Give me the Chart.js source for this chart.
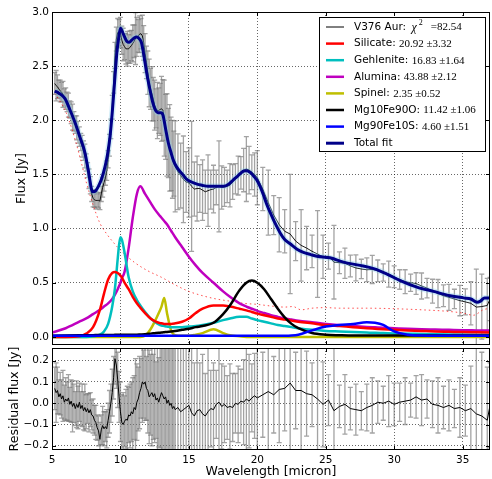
<!DOCTYPE html>
<html>
<head>
<meta charset="utf-8">
<script src="https://cdn.jsdelivr.net/npm/chart.js@4/dist/chart.umd.min.js"></script>
<style>
  html, body { margin: 0; padding: 0; background: #fff; }
  #wrap { position: relative; width: 492px; height: 479px; }
  #topChart { position: absolute; left: 0; top: 0; }
  #resChart { position: absolute; left: 0; top: 346px; }
</style>
</head>
<body>
<div id="wrap">
  <canvas id="topChart" width="492" height="346" style="width:492px;height:346px"></canvas>
  <canvas id="resChart" width="492" height="133" style="width:492px;height:133px"></canvas>
</div>
<script>
// ---- ticks
const xTicks = [5, 10, 15, 20, 25, 30, 35];
const fluxTicks = [0, 0.5, 1, 1.5, 2, 2.5, 3];
const residTicks = [-0.2, -0.1, 0, 0.1, 0.2];

// ---- observed spectrum (micron, Jy)
const wave = [
  5.2,5.3,5.4,5.5,5.6,5.7,5.8,5.9,6.0,
  6.1,6.2,6.3,6.4,6.5,6.6,6.7,6.8,6.9,7.0,
  7.1,7.2,7.3,7.4,7.5,7.6,7.7,7.8,7.9,8.0,
  8.1,8.2,8.3,8.4,8.5,8.6,8.7,8.8,8.9,9.0,
  9.1,9.2,9.3,9.4,9.5,9.6,9.7,9.8,9.9,10.0,
  10.1,10.2,10.3,10.4,10.5,10.6,10.7,10.8,10.9,11.0,
  11.1,11.2,11.3,11.4,11.5,11.6,11.7,11.8,11.9,12.0,
  12.1,12.2,12.3,12.4,12.5,12.6,12.7,12.8,12.9,13.0,
  13.1,13.2,13.3,13.4,13.5,13.6,13.7,13.8,13.9,14.0,
  14.2,14.4,14.6,14.8,15.0,15.2,15.4,15.6,15.8,16.0,
  16.2,16.4,16.6,16.8,17.0,17.2,17.4,17.6,17.8,18.0,
  18.2,18.4,18.6,18.8,19.0,19.2,19.4,19.6,19.8,20.0,
  20.4,20.8,21.2,21.6,22.0,22.4,22.8,23.2,23.6,24.0,
  24.4,24.8,25.2,25.6,26.0,26.4,26.8,27.2,27.6,28.0,
  28.4,28.8,29.2,29.6,30.0,30.4,30.8,31.2,31.6,32.0,
  32.4,32.8,33.2,33.6,34.0,34.4,34.8,35.2,35.6,36.0,
  36.4,36.8,37.0
];
const flux = [
  2.34,2.32,2.31,2.29,2.27,2.26,2.24,2.21,2.20,
  2.17,2.14,2.10,2.07,2.03,1.99,1.96,1.93,1.89,1.85,
  1.80,1.76,1.72,1.67,1.61,1.54,1.46,1.40,1.32,1.28,
  1.265,1.26,1.26,1.26,1.255,1.32,1.38,1.425,1.47,1.535,
  1.64,1.77,1.92,2.12,2.35,2.60,2.75,2.81,2.81,2.81,
  2.74,2.70,2.68,2.66,2.66,2.66,2.675,2.69,2.71,2.73,
  2.755,2.77,2.78,2.795,2.80,2.78,2.715,2.62,2.535,2.44,
  2.345,2.29,2.245,2.195,2.14,2.11,2.09,2.09,2.10,2.105,
  2.095,2.02,1.94,1.865,1.79,1.745,1.69,1.64,1.60,1.575,
  1.525,1.49,1.455,1.43,1.425,1.39,1.365,1.37,1.37,1.355,
  1.34,1.35,1.36,1.365,1.38,1.39,1.38,1.385,1.39,1.40,
  1.43,1.46,1.49,1.515,1.54,1.55,1.54,1.52,1.50,1.47,
  1.365,1.24,1.125,1.035,0.975,0.95,0.885,0.845,0.82,0.79,
  0.765,0.74,0.745,0.69,0.685,0.68,0.655,0.637,0.627,0.62,
  0.623,0.61,0.595,0.58,0.555,0.53,0.51,0.50,0.492,0.47,
  0.45,0.422,0.40,0.38,0.365,0.35,0.335,0.323,0.31,0.275,
  0.28,0.29,0.35
];
const fluxErr = [
  0.10,0.14,0.11,0.08,0.10,0.09,0.12,0.08,0.10,
  0.09,0.11,0.08,0.10,0.12,0.09,0.08,0.11,0.10,0.09,
  0.08,0.10,0.09,0.11,0.08,0.07,0.09,0.08,0.07,0.08,
  0.07,0.08,0.06,0.07,0.08,0.07,0.09,0.08,0.07,0.09,
  0.08,0.10,0.09,0.11,0.10,0.12,0.11,0.13,0.12,0.14,
  0.13,0.15,0.12,0.14,0.16,0.13,0.15,0.14,0.17,0.15,
  0.24,0.18,0.15,0.17,0.14,0.19,0.16,0.18,0.15,0.20,
  0.22,0.19,0.25,0.20,0.23,0.18,0.26,0.21,0.24,0.30,
  0.28,0.35,0.30,0.38,0.32,0.40,0.34,0.36,0.30,0.42,
  0.35,0.30,0.40,0.28,0.32,0.60,0.25,0.30,0.22,0.28,
  0.20,0.33,0.18,0.22,0.16,0.42,0.20,0.18,0.15,0.20,
  0.16,0.14,0.18,0.15,0.20,0.30,0.22,0.16,0.20,0.25,
  0.20,0.30,0.18,0.25,0.20,0.55,0.18,0.33,0.20,0.15,
  0.40,0.20,0.12,0.34,0.10,0.14,0.10,0.12,0.09,0.11,
  0.13,0.10,0.08,0.12,0.10,0.09,0.11,0.08,0.10,0.12,
  0.09,0.11,0.13,0.10,0.12,0.09,0.14,0.12,0.20,0.35,
  0.30,0.25,0.20
];
const resid = [
  0.07,0.05,0.06,0.03,0.045,0.02,0.035,0.005,0.02,
  0.01,0.025,-0.005,0.01,-0.015,0.0,-0.025,-0.005,-0.02,0.005,
  -0.025,-0.01,-0.035,-0.02,-0.04,-0.025,-0.045,-0.03,-0.055,-0.06,
  -0.08,-0.09,-0.115,-0.13,-0.17,-0.125,-0.105,-0.12,-0.11,-0.12,
  -0.08,-0.04,0.0,0.05,0.12,0.21,0.18,0.11,0.03,-0.04,
  -0.09,-0.1,-0.085,-0.075,-0.08,-0.055,-0.06,-0.04,-0.05,-0.02,
  -0.03,0.005,0.02,0.05,0.07,0.1,0.09,0.1,0.07,0.06,
  0.03,0.04,0.05,0.03,0.045,0.015,0.025,0.005,0.03,0.05,
  0.035,0.02,0.03,0.0,0.015,-0.01,0.0,-0.025,-0.015,-0.03,
  -0.02,-0.04,-0.03,-0.02,-0.01,-0.045,-0.06,-0.035,-0.03,-0.05,
  -0.06,-0.04,-0.025,-0.03,-0.005,0.005,-0.015,-0.005,-0.02,-0.015,
  -0.02,0.0,-0.005,0.01,0.005,0.02,0.01,0.025,0.035,0.025,
  0.04,0.055,0.04,0.065,0.07,0.095,0.06,0.06,0.045,0.04,
  0.02,-0.005,0.015,-0.035,-0.015,-0.005,-0.025,-0.03,-0.035,-0.02,
  -0.01,0.005,0.0,0.01,-0.005,0.005,0.01,0.015,0.03,0.015,
  0.02,-0.005,-0.01,-0.02,-0.01,-0.025,-0.02,-0.035,-0.025,-0.05,
  -0.06,-0.08,-0.01
];

// ---- total fit
const fitWave = [5.2,5.5,5.95,6.3,6.68,7.0,7.41,7.65,7.97,8.2,8.39,8.6,8.87,9.05,9.24,9.4,9.6,9.75,9.85,10.0,
  10.2,10.46,10.65,10.82,11.0,11.19,11.4,11.55,11.8,12.0,12.16,12.35,12.53,12.75,12.95,13.1,13.3,13.5,13.7,13.87,
  14.1,14.48,14.8,15.2,15.6,15.95,16.4,16.8,17.2,17.52,17.9,18.25,18.6,18.98,19.2,19.47,19.7,19.96,20.2,20.45,
  20.7,20.94,21.3,21.67,22.0,22.4,22.9,23.37,23.9,24.35,25.3,26.3,27.5,28.5,29.47,30.44,31.66,32.87,34.1,35.07,
  35.6,36.05,36.3,36.6,37];
const fitFlux = [2.27,2.25,2.20,2.10,1.98,1.86,1.70,1.54,1.34,1.35,1.39,1.45,1.57,1.68,1.85,2.07,2.40,2.64,2.74,2.85,
  2.80,2.73,2.72,2.74,2.76,2.77,2.75,2.71,2.53,2.38,2.28,2.17,2.10,2.07,2.07,2.05,1.92,1.79,1.70,1.63,
  1.57,1.51,1.46,1.43,1.41,1.40,1.39,1.39,1.39,1.39,1.41,1.45,1.49,1.53,1.535,1.52,1.49,1.45,1.39,1.31,
  1.22,1.15,1.05,0.96,0.90,0.86,0.81,0.78,0.76,0.745,0.73,0.69,0.66,0.63,0.58,0.52,0.46,0.42,0.38,0.36,
  0.35,0.32,0.33,0.36,0.36];

// ---- continuum (red dotted)
const contWave = [5.2,6,6.5,7,7.5,8,8.5,9,9.5,10,11,12,13,14,15,16,17,18,19,20,21,22,22.6,23.2,24,25,26,28,30,32,34,35,35.8,36.5,37];
const contFlux = [2.25,2.08,1.9,1.68,1.43,1.22,1.05,0.95,0.87,0.80,0.69,0.61,0.55,0.48,0.42,0.38,0.35,0.33,0.31,0.30,0.285,0.275,0.28,0.25,0.265,0.27,0.265,0.265,0.26,0.25,0.235,0.22,0.2,0.25,0.265];

// ---- dust components
const compWave = [5,6,7,7.5,8,8.5,8.8,9.1,9.4,9.6,9.8,9.9,10.0,10.1,10.3,10.6,10.9,11.2,11.45,11.8,
  12.2,12.5,12.8,13.0,13.2,13.4,13.7,14.0,14.5,15.0,15.5,16.0,16.8,17.5,18.0,18.7,19.2,19.6,20.0,20.5,
  21.0,21.5,22.0,22.5,23.0,24,25,26,27,28,28.6,29.2,30,31,32,33,34,35,36,37];
const silicate = [0.0,0.0,0.005,0.03,0.09,0.25,0.40,0.53,0.59,0.60,0.59,0.58,0.565,0.55,0.50,0.44,0.37,0.31,0.27,0.22,
  0.17,0.145,0.13,0.125,0.12,0.12,0.12,0.125,0.14,0.17,0.22,0.26,0.29,0.29,0.28,0.26,0.245,0.23,0.215,0.20,
  0.185,0.17,0.16,0.15,0.14,0.125,0.11,0.10,0.09,0.08,0.075,0.07,0.065,0.06,0.055,0.05,0.047,0.044,0.042,0.04];
const gehlenite = [0.0,0.0,0.0,0.0,0.005,0.02,0.05,0.12,0.28,0.45,0.72,0.85,0.92,0.90,0.78,0.55,0.42,0.34,0.29,0.23,
  0.17,0.14,0.115,0.105,0.10,0.095,0.09,0.09,0.09,0.095,0.10,0.11,0.13,0.155,0.17,0.185,0.185,0.17,0.155,0.14,
  0.125,0.11,0.10,0.09,0.08,0.065,0.055,0.05,0.045,0.04,0.037,0.035,0.032,0.03,0.027,0.025,0.023,0.021,0.02,0.02];
const alumina = [0.04,0.08,0.14,0.17,0.21,0.25,0.28,0.31,0.35,0.39,0.44,0.47,0.50,0.54,0.60,0.82,1.10,1.32,1.39,1.32,
  1.24,1.18,1.13,1.10,1.07,1.04,0.98,0.92,0.83,0.74,0.66,0.59,0.50,0.42,0.37,0.31,0.28,0.26,0.24,0.22,
  0.20,0.185,0.17,0.16,0.15,0.135,0.12,0.11,0.10,0.092,0.088,0.084,0.08,0.075,0.071,0.068,0.065,0.062,0.06,0.058];
const spinel = [0,0,0,0,0,0,0,0,0,0,0,0,0,0,0,0,0,0,0,0.01,
  0.07,0.14,0.22,0.28,0.36,0.22,0.06,0.015,0.01,0.01,0.02,0.035,0.07,0.035,0.015,0.005,0,0,0,0,
  0,0,0,0,0,0,0,0,0,0,0,0,0,0,0,0,0,0,0,0];
const mg10fe90o = [0.01,0.012,0.014,0.015,0.016,0.017,0.017,0.018,0.018,0.019,0.019,0.019,0.02,0.02,0.02,0.02,0.02,0.02,0.022,0.025,
  0.03,0.034,0.038,0.04,0.043,0.046,0.05,0.055,0.065,0.075,0.09,0.10,0.13,0.21,0.29,0.43,0.50,0.52,0.50,0.44,
  0.35,0.26,0.18,0.12,0.08,0.035,0.02,0.015,0.012,0.012,0.012,0.012,0.012,0.012,0.012,0.012,0.012,0.012,0.012,0.012];
const mg90fe10s = [0.01,0.01,0.01,0.01,0.01,0.01,0.01,0.01,0.01,0.01,0.01,0.01,0.01,0.01,0.01,0.01,0.01,0.01,0.01,0.01,
  0.01,0.01,0.01,0.01,0.01,0.01,0.01,0.01,0.01,0.01,0.01,0.01,0.01,0.01,0.01,0.01,0.01,0.01,0.01,0.01,
  0.01,0.01,0.01,0.012,0.02,0.06,0.095,0.11,0.12,0.135,0.13,0.11,0.05,0.02,0.012,0.01,0.01,0.01,0.01,0.01];

// ---- legend text
const legendNames = ['V376 Aur: ', 'Silicate: ', 'Gehlenite: ', 'Alumina: ', 'Spinel: ', 'Mg10Fe90O: ', 'Mg90Fe10S: ', 'Total fit'];
const legendVals = ['=82.54', '20.92 \u00b13.32', '16.83 \u00b11.64', '43.88 \u00b12.12', '2.35 \u00b10.52', '11.42 \u00b11.06', '4.60 \u00b11.51', ''];
const legendColors = ['#000000', '#ff0000', '#00bfbf', '#bf00bf', '#bfbf00', '#000000', '#0000ff', '#000088'];
const legendWidths = [1, 2.5, 2.5, 2.5, 2.5, 2.5, 2.5, 3];

Chart.defaults.font.family = "'DejaVu Sans', sans-serif";
Chart.defaults.color = '#000';

const pts = (xs, ys) => xs.map((v, i) => ({ x: v, y: ys[i] }));
const gridColor = 'rgba(0,0,0,0.75)';

// error bars drawn behind the lines
const errorBars = {
    id: 'errorBars',
    beforeDatasetsDraw(chart, args, opts) {
        const { ctx, chartArea: a, scales: { x, y } } = chart;
        ctx.save();
        ctx.beginPath();
        ctx.rect(a.left, a.top, a.width, a.height);
        ctx.clip();
        ctx.strokeStyle = 'rgba(120,120,120,0.68)';
        ctx.lineWidth = 1.3;
        wave.forEach((w, i) => {
            const px = x.getPixelForValue(w);
            const lo = y.getPixelForValue(opts.values[i] - fluxErr[i]);
            const hi = y.getPixelForValue(opts.values[i] + fluxErr[i]);
            ctx.beginPath();
            ctx.moveTo(px, lo); ctx.lineTo(px, hi);
            ctx.moveTo(px - 2.5, lo); ctx.lineTo(px + 2.5, lo);
            ctx.moveTo(px - 2.5, hi); ctx.lineTo(px + 2.5, hi);
            ctx.stroke();
        });
        ctx.restore();
    }
};

// axes box with inward ticks
const frame = {
    id: 'frame',
    afterDatasetsDraw(chart, args, opts) {
        const { ctx, chartArea: a, scales: { x, y } } = chart;
        ctx.save();
        ctx.strokeStyle = '#000';
        ctx.lineWidth = 1;
        ctx.strokeRect(a.left + 0.5, a.top + 0.5, a.width - 1, a.height - 1);
        ctx.beginPath();
        xTicks.forEach(v => {
            const px = Math.round(x.getPixelForValue(v)) + 0.5;
            ctx.moveTo(px, a.bottom); ctx.lineTo(px, a.bottom - 4);
            ctx.moveTo(px, a.top); ctx.lineTo(px, a.top + 4);
        });
        opts.yTicks.forEach(v => {
            const py = Math.round(y.getPixelForValue(v)) + 0.5;
            ctx.moveTo(a.left, py); ctx.lineTo(a.left + 4, py);
            ctx.moveTo(a.right, py); ctx.lineTo(a.right - 4, py);
        });
        ctx.stroke();
        ctx.restore();
    }
};

// legend with mixed sans / serif text
const fitLegend = {
    id: 'fitLegend',
    afterDraw(chart) {
        const ctx = chart.ctx;
        ctx.save();
        ctx.fillStyle = '#fff';
        ctx.fillRect(319.5, 17.5, 166, 134);
        ctx.strokeStyle = '#000';
        ctx.lineWidth = 1;
        ctx.strokeRect(319.5, 17.5, 166, 134);
        ctx.textBaseline = 'middle';
        legendNames.forEach((name, i) => {
            const yy = 27 + i * 16.6;
            ctx.strokeStyle = legendColors[i];
            ctx.lineWidth = legendWidths[i];
            ctx.beginPath();
            ctx.moveTo(326, yy); ctx.lineTo(344, yy);
            ctx.stroke();
            ctx.fillStyle = '#000';
            ctx.font = "10.5px 'DejaVu Sans'";
            ctx.fillText(name, 354, yy);
            let xx = 354 + ctx.measureText(name).width;
            if (i === 0) {
                ctx.font = "italic 12px 'Liberation Serif'";
                ctx.fillText('\u03c7', xx + 2, yy + 1);
                xx += 2 + ctx.measureText('\u03c7').width;
                ctx.font = "8px 'Liberation Serif'";
                ctx.fillText('2', xx + 2, yy - 4);
                xx += 14;
            }
            ctx.font = "11px 'Liberation Serif'";
            ctx.fillText(legendVals[i], xx, yy + 0.5);
        });
        ctx.restore();
    }
};

function xScale(showLabels) {
    return {
        type: 'linear', min: 5, max: 37,
        afterBuildTicks: s => { s.ticks = xTicks.map(v => ({ value: v })); },
        afterFit: s => {
            s.height = showLabels ? 29 : 0;
            s.paddingLeft = 0; s.paddingRight = 0;
        },
        grid: { color: gridColor, lineWidth: 0.8, drawTicks: false },
        border: { display: false, dash: [1, 2] },
        ticks: { display: showLabels, padding: 4, font: { size: 10.5 }, maxRotation: 0, autoSkip: false },
        title: { display: showLabels, text: 'Wavelength [micron]', font: { size: 12.5 }, padding: 0 }
    };
}

function yScale(min, max, ticks, title, titlePad) {
    return {
        type: 'linear', min: min, max: max,
        afterBuildTicks: s => { s.ticks = ticks.map(v => ({ value: v })); },
        afterFit: s => {
            s.width = 52;
            s.paddingTop = 0; s.paddingBottom = 0;
        },
        grid: { color: gridColor, lineWidth: 0.8, drawTicks: false },
        border: { display: false, dash: [1, 2] },
        ticks: {
            padding: 3, font: { size: 10.5 }, autoSkip: false,
            callback: v => v.toFixed(1).replace('-', '\u2212')
        },
        title: { display: true, text: title, font: { size: 12.5 }, padding: { top: titlePad, bottom: 0 } }
    };
}

function line(data, color, width, order, extra) {
    return Object.assign({
        data: data, borderColor: color, borderWidth: width, pointRadius: 0,
        fill: false, order: order, cubicInterpolationMode: 'monotone'
    }, extra || {});
}

new Chart(document.getElementById('topChart'), {
    type: 'line',
    data: {
        datasets: [
            line(pts(contWave, contFlux), 'rgba(255,0,0,0.7)', 1, 10, { borderDash: [1.5, 3] }),
            line(pts(wave, flux), '#000', 0.9, 9, { cubicInterpolationMode: 'default', tension: 0 }),
            line(pts(fitWave, fitFlux), 'rgba(135,206,235,0.35)', 6, 8),
            line(pts(compWave, alumina), '#bf00bf', 2.5, 6),
            line(pts(compWave, silicate), '#ff0000', 2.5, 5),
            line(pts(compWave, gehlenite), '#00bfbf', 2.5, 5),
            line(pts(compWave, spinel), '#bfbf00', 2.5, 5),
            line(pts(compWave, mg10fe90o), '#000000', 2.5, 4),
            line(pts(compWave, mg90fe10s), '#0000ff', 2.5, 3),
            line(pts(fitWave, fitFlux), '#000088', 3, 1)
        ]
    },
    options: {
        responsive: false, animation: false, events: [],
        layout: { padding: { left: 0, right: 2, top: 12, bottom: 1 } },
        scales: {
            x: xScale(false),
            y: yScale(-0.075, 3.0, fluxTicks, 'Flux [Jy]', 14)
        },
        plugins: {
            legend: { display: false },
            tooltip: { enabled: false },
            errorBars: { values: flux },
            frame: { yTicks: fluxTicks }
        }
    },
    plugins: [errorBars, frame, fitLegend]
});

new Chart(document.getElementById('resChart'), {
    type: 'line',
    data: {
        datasets: [
            line(pts(wave, resid), '#000', 1, 1, { cubicInterpolationMode: 'default', tension: 0 })
        ]
    },
    options: {
        responsive: false, animation: false, events: [],
        layout: { padding: { left: 0, right: 2, top: 2, bottom: 0 } },
        scales: {
            x: xScale(true),
            y: yScale(-0.22, 0.26, residTicks, 'Residual flux [Jy]', 7)
        },
        plugins: {
            legend: { display: false },
            tooltip: { enabled: false },
            errorBars: { values: resid },
            frame: { yTicks: residTicks }
        }
    },
    plugins: [errorBars, frame]
});
</script>
</body>
</html>
